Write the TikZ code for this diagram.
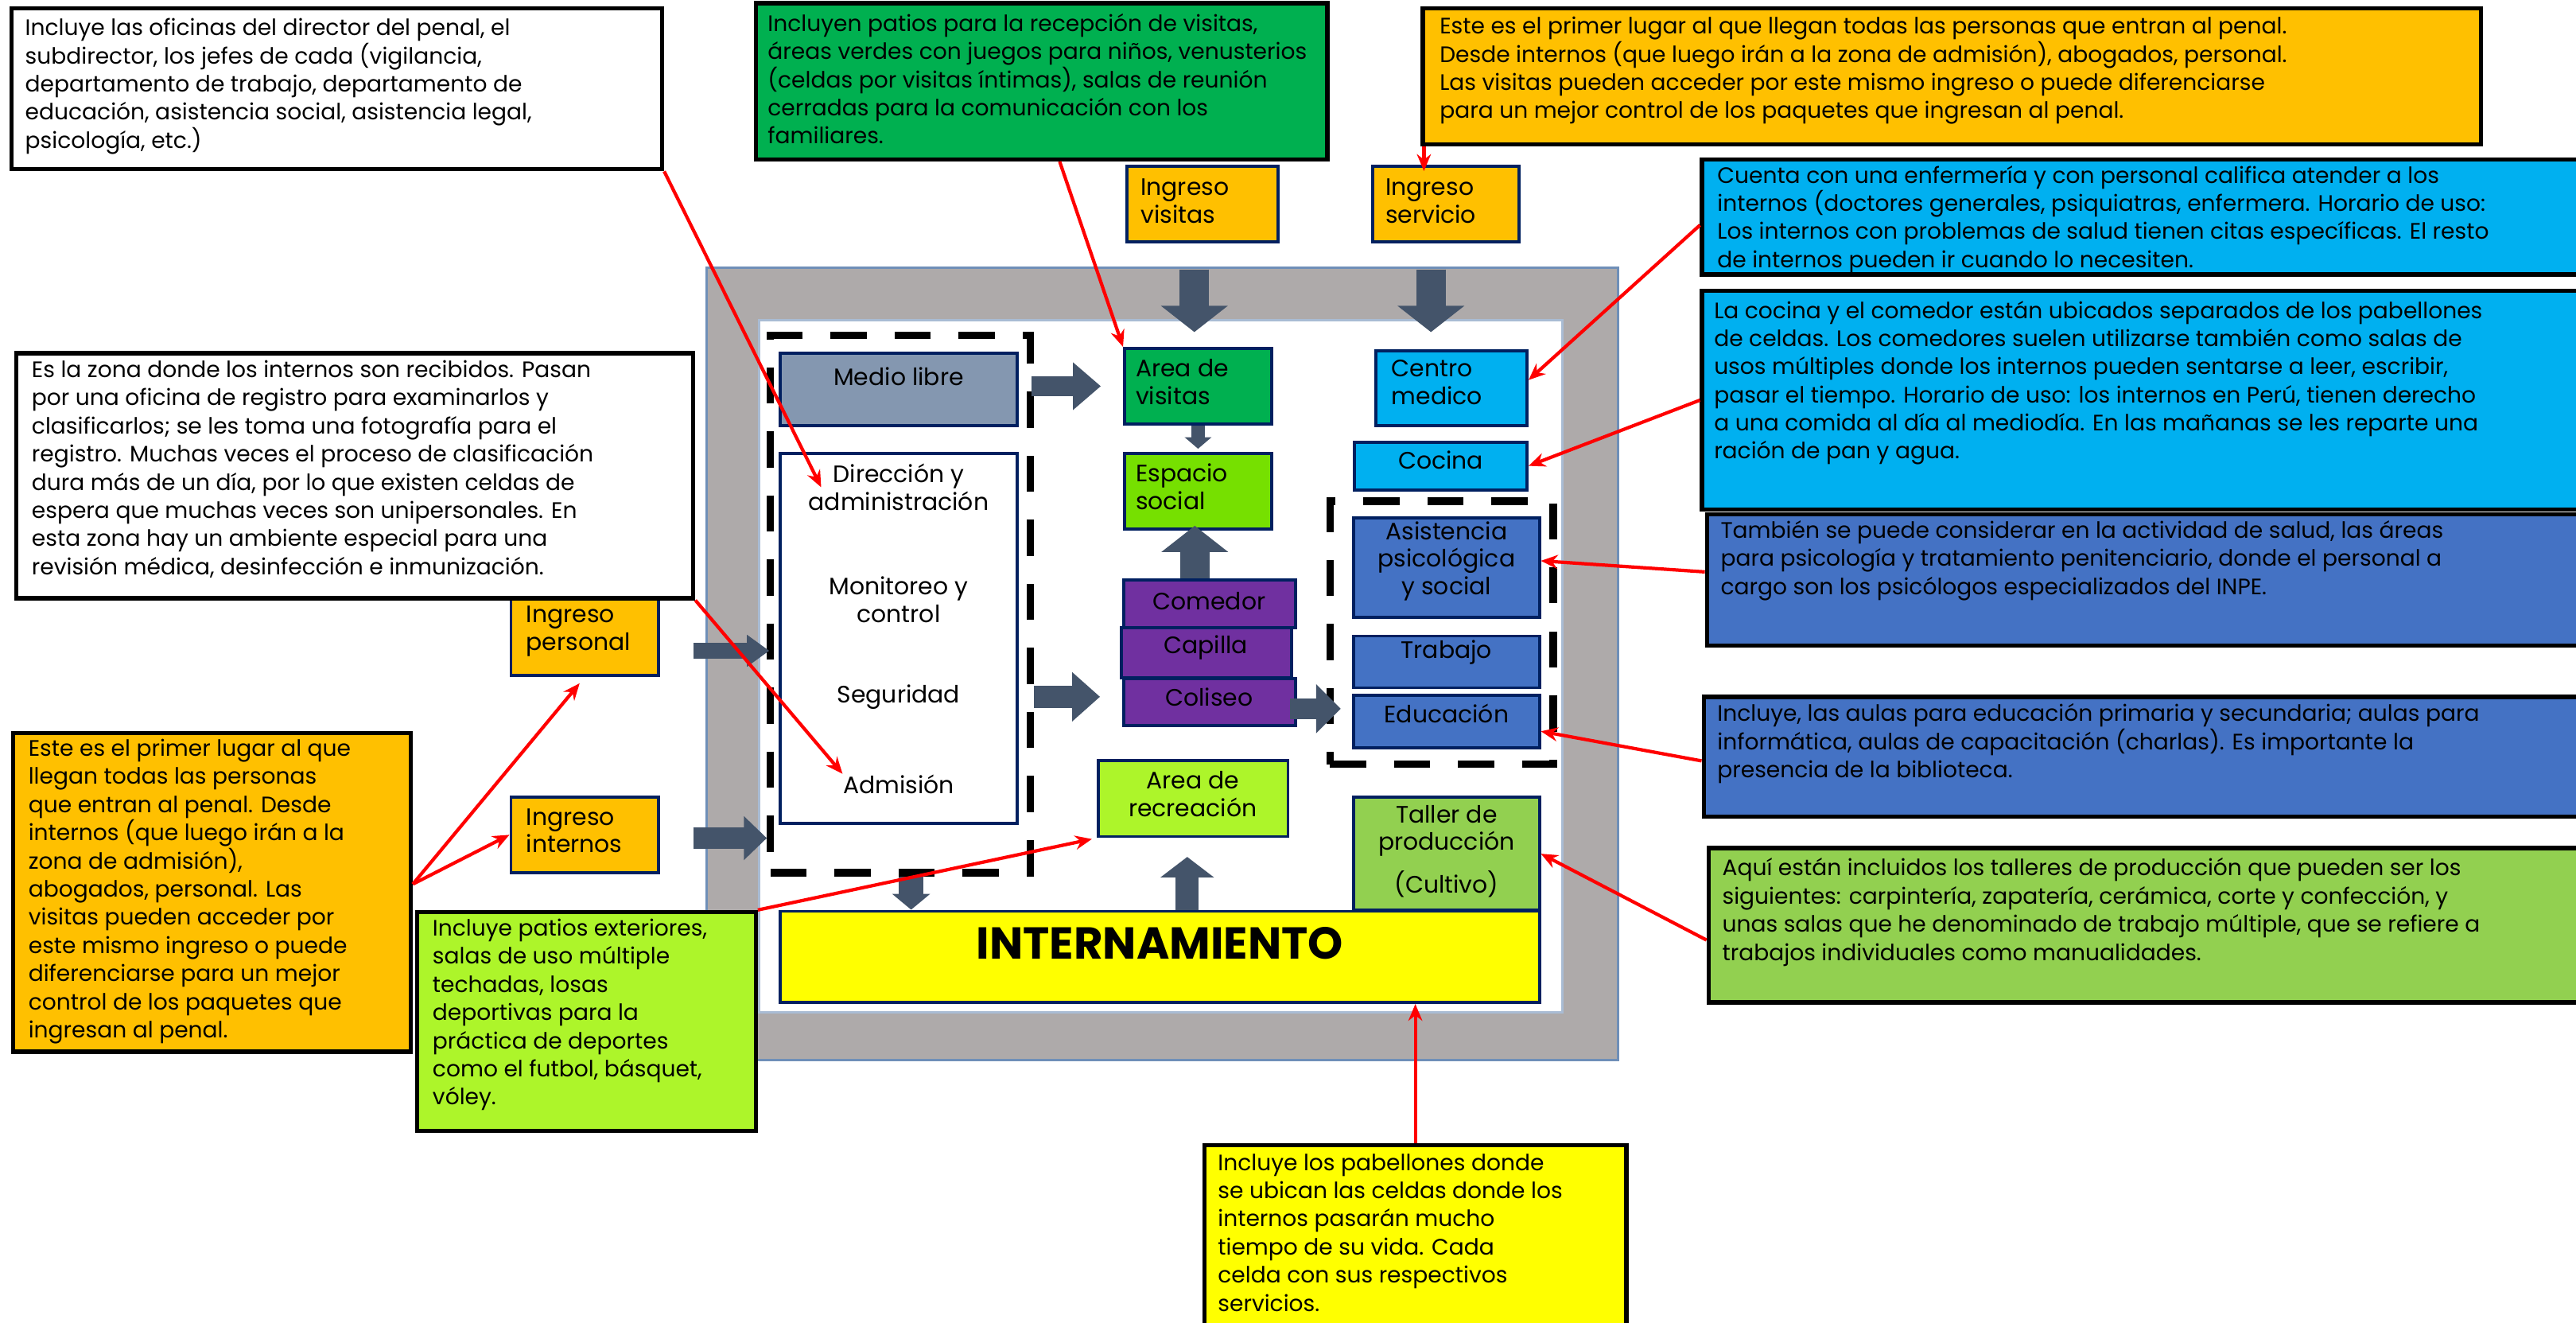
\documentclass[tikz,border=0pt]{standalone}
\usepackage{fontspec}
\setmainfont{Poppins}
\usetikzlibrary{arrows.meta}
\newlength{\pxu}
\setlength{\pxu}{0.20657mm}
\definecolor{naranja}{HTML}{FFC000}
\definecolor{verde}{HTML}{00B050}
\definecolor{celeste}{HTML}{00B0F0}
\definecolor{azul}{HTML}{4472C4}
\definecolor{verdeclaro}{HTML}{92D050}
\definecolor{lima}{HTML}{ADF52A}
\definecolor{limon}{HTML}{76E000}
\definecolor{amarillo}{HTML}{FFFF00}
\definecolor{morado}{HTML}{7030A0}
\definecolor{pizarra}{HTML}{44546A}
\definecolor{grismuro}{HTML}{AEAAAA}
\definecolor{bordeazul}{HTML}{6F8FB8}
\definecolor{marino}{HTML}{002060}
\definecolor{mediolibre}{HTML}{8497B0}
\tikzset{
  desc/.style={draw=black, line width=1.5pt, inner sep=0pt},
  dtxt/.style={anchor=west, align=left, inner sep=0pt, font=\fontsize{8}{10.07}\selectfont},
  room/.style={draw=marino, line width=1.1pt, inner sep=0pt},
  rtxt/.style={align=center, inner sep=0pt, font=\fontsize{8.5}{9.9}\selectfont},
  ltxt/.style={rtxt, anchor=west, align=left},
  zone/.style={draw=black, line width=0.93mm, dash pattern=on 4.54mm off 3.51mm, inner sep=0pt},
  blk/.style n args={3}{draw=pizarra, line width=#1, -{Triangle[width=#2, length=#3]}},
  redarr/.style={draw=red, line width=1.2pt, -{Stealth[length=6pt, width=5pt]}},
}
\begin{document}
\begin{tikzpicture}[x=0.20657mm, y=-0.20657mm]
    \useasboundingbox (0,0) rectangle (1568,804.6);
    \node[draw=bordeazul, line width=0.8pt, fill=grismuro, minimum width=555\pxu, minimum height=482\pxu, inner sep=0pt] (muro) at (707.5,404) {};
    \node[draw=bordeazul!60, line width=0.8pt, fill=white, minimum width=489\pxu, minimum height=421\pxu, inner sep=0pt] (patio) at (706.5,405.5) {};
    \node[zone, minimum width=158\pxu, minimum height=327\pxu] (zadm) at (548,367.5) {};
    \node[zone, minimum width=136\pxu, minimum height=160\pxu] (zsoc) at (877.5,385) {};
    \node[room, fill=naranja, minimum width=92\pxu, minimum height=46\pxu] (ingvis) at (732,124) {};
    \node[ltxt] (ingvis-t) at (694,122.3) {Ingreso\\visitas};
    \node[room, fill=naranja, minimum width=89\pxu, minimum height=46\pxu] (ingser) at (880,124) {};
    \node[ltxt] (ingser-t) at (843,122.3) {Ingreso\\servicio};
    \node[room, fill=naranja, minimum width=90\pxu, minimum height=47\pxu] (ingper) at (356,387.5) {};
    \node[ltxt] (ingper-t) at (320,384) {Ingreso\\personal};
    \node[room, fill=naranja, minimum width=90\pxu, minimum height=46\pxu] (ingint) at (356,508) {};
    \node[ltxt] (ingint-t) at (320,505.5) {Ingreso\\internos};
    \node[room, fill=mediolibre, minimum width=144\pxu, minimum height=44\pxu] (medlib) at (547,237) {};
    \node[rtxt] (medlib-t) at (547,229) {Medio libre};
    \node[room, fill=white, minimum width=144\pxu, minimum height=225\pxu] (dir) at (547,388.5) {};
    \node[rtxt] (dir-t) at (547,296.5) {Dirección y\\administración};
    \node[rtxt] (mon-t) at (547,365) {Monitoreo y\\control};
    \node[rtxt] (seg-t) at (547,424) {Seguridad};
    \node[rtxt] (adm-t) at (547,477) {Admisión};
    \node[room, fill=verde, minimum width=89.5\pxu, minimum height=46\pxu] (areavis) at (729.25,235) {};
    \node[ltxt] (areavis-t) at (691,232.5) {Area de\\visitas};
    \node[room, fill=limon, minimum width=89.5\pxu, minimum height=46\pxu] (espsoc) at (729.25,299) {};
    \node[ltxt] (espsoc-t) at (691,296.3) {Espacio\\social};
    \node[room, fill=morado, minimum width=104.5\pxu, minimum height=29\pxu] (comedor) at (736.25,367.5) {};
    \node[rtxt] (comedor-t) at (736,366) {Comedor};
    \node[room, fill=morado, minimum width=103.5\pxu, minimum height=30.5\pxu] (capilla) at (734.25,397.25) {};
    \node[rtxt] (capilla-t) at (734,394) {Capilla};
    \node[room, fill=morado, minimum width=104.5\pxu, minimum height=28.5\pxu] (coliseo) at (736.25,427.25) {};
    \node[rtxt] (coliseo-t) at (736,424) {Coliseo};
    \node[room, fill=lima, minimum width=115.5\pxu, minimum height=46\pxu] (recre) at (726.25,486) {};
    \node[rtxt] (recre-t) at (726,483) {Area de\\recreación};
    \node[room, fill=celeste, minimum width=92\pxu, minimum height=45.5\pxu] (cmed) at (883.5,236.25) {};
    \node[ltxt] (cmed-t) at (846.7,232.5) {Centro\\medico};
    \node[room, fill=celeste, minimum width=105\pxu, minimum height=29\pxu] (cocina) at (877,283.5) {};
    \node[rtxt] (cocina-t) at (877,280) {Cocina};
    \node[room, fill=azul, minimum width=113\pxu, minimum height=60.5\pxu] (asi) at (880.5,345.25) {};
    \node[rtxt] (asi-t) at (880.5,341.5) {Asistencia\\psicológica\\y social};
    \node[room, fill=azul, minimum width=113\pxu, minimum height=31.5\pxu] (trabajo) at (880.5,402.75) {};
    \node[rtxt] (trabajo-t) at (880.5,397) {Trabajo};
    \node[room, fill=azul, minimum width=113\pxu, minimum height=32\pxu] (edu) at (880.5,439) {};
    \node[rtxt] (edu-t) at (880.5,434) {Educación};
    \node[room, fill=verdeclaro, minimum width=113\pxu, minimum height=69\pxu] (taller) at (880.5,519.5) {};
    \node[rtxt] (taller-t) at (880.5,518) {Taller de\\producción\\[7\pxu](Cultivo)};
    \node[room, fill=amarillo, minimum width=462\pxu, minimum height=55.5\pxu] (intern) at (706,582.25) {};
    \node[rtxt, font=\bfseries\fontsize{16}{18}\selectfont] (intern-t) at (706,574) {INTERNAMIENTO};
    \draw[blk={18\pxu}{8.26mm}{3.31mm}, shorten <=16\pxu, shorten >=9\pxu] ([xshift=-5\pxu]ingvis.south) -- ([xshift=-5\pxu]ingvis.south |- areavis.north);
    \draw[blk={18\pxu}{8.26mm}{3.31mm}, shorten <=16\pxu, shorten >=10.5\pxu] ([xshift=-9\pxu]ingser.south) -- ([xshift=-9\pxu]ingser.south |- cmed.north);
    \draw[blk={12.5\pxu}{5.78mm}{3.51mm}, shorten <=8\pxu, shorten >=13.5\pxu] ([yshift=2\pxu]medlib.east) -- ([yshift=2\pxu]medlib.east -| areavis.west);
    \draw[blk={8.5\pxu}{3.31mm}{1.45mm}, shorten >=2\pxu] (areavis.south) -- (espsoc.north);
    \draw[blk={18\pxu}{8.26mm}{3.31mm}, shorten >=-3\pxu] ([xshift=-9\pxu]comedor.north) -- ([xshift=-9\pxu]comedor.north |- espsoc.south);
    \draw[blk={13.5\pxu}{5.99mm}{3.51mm}, shorten >=12\pxu] (zadm.east |- coliseo-t) -- (capilla.west |- coliseo-t);
    \draw[blk={12.5\pxu}{5.99mm}{3.10mm}, shorten <=-4\pxu, shorten >=7\pxu] ([yshift=-4\pxu]coliseo.east) -- ([yshift=-4\pxu]coliseo.east -| edu.west);
    \draw[blk={9.5\pxu}{3.84mm}{2.81mm}, shorten <=20\pxu, shorten >=-1.5\pxu] ([yshift=-8.5\pxu]ingper.east) -- ([yshift=-8.5\pxu]ingper.east -| zadm.west);
    \draw[blk={13\pxu}{5.37mm}{2.89mm}, shorten <=20\pxu] ([yshift=-2\pxu]ingint.east) -- ([yshift=-2\pxu]ingint.east -| zadm.west);
    \draw[blk={15\pxu}{4.65mm}{1.98mm}] ([xshift=6.6\pxu]zadm.south) -- ([xshift=6.6\pxu]zadm.south |- intern.north);
    \draw[blk={14\pxu}{6.61mm}{2.58mm}, shorten >=11.5\pxu] ([xshift=-3.6\pxu]recre.south |- intern.north) -- ([xshift=-3.6\pxu]recre.south);
    \node[desc, fill=white, minimum width=396\pxu, minimum height=98\pxu] (dofi) at (205,54) {};
    \node[dtxt] (dofi-t) at (15,52.5) {Incluye las oficinas del director del penal, el\\subdirector, los jefes de cada  (vigilancia,\\departamento de trabajo, departamento de\\educación,  asistencia social, asistencia legal,\\psicología, etc.)};
    \node[desc, fill=verde, minimum width=348\pxu, minimum height=95\pxu] (dvis) at (634,49.5) {};
    \node[dtxt] (dvis-t) at (467,48) {Incluyen patios para la recepción de visitas,\\áreas verdes con juegos para niños, venusterios\\(celdas por visitas íntimas), salas de reunión\\cerradas para la comunicación con los\\familiares.};
    \node[desc, fill=naranja, minimum width=644\pxu, minimum height=83\pxu] (dent) at (1188,46.5) {};
    \node[dtxt] (dent-t) at (876,43) {Este es el primer lugar al que llegan todas las personas que entran al penal.\\Desde internos (que luego irán a la zona de admisión), abogados, personal.\\Las visitas pueden acceder por este mismo ingreso o puede diferenciarse\\para un mejor control de los paquetes que ingresan al penal.};
    \node[desc, fill=celeste, minimum width=539\pxu, minimum height=70\pxu] (dmed) at (1305.5,132) {};
    \node[dtxt] (dmed-t) at (1045,133.5) {Cuenta con una enfermería y con personal califica atender a los\\internos (doctores generales, psiquiatras, enfermera. Horario de uso:\\Los internos con problemas de salud tienen citas específicas. El resto\\de internos pueden ir cuando lo necesiten.};
    \node[desc, fill=celeste, minimum width=539\pxu, minimum height=133\pxu] (dcoc) at (1305.5,243.5) {};
    \node[dtxt] (dcoc-t) at (1043,233) {La cocina y el comedor están ubicados separados de los pabellones\\de celdas. Los comedores suelen utilizarse también como salas de\\usos múltiples donde los internos pueden sentarse a leer, escribir,\\pasar el tiempo. Horario de uso: los internos en Perú, tienen derecho\\a una comida al día al mediodía. En las mañanas se les reparte una\\ración de pan  y agua.};
    \node[desc, fill=azul, minimum width=536\pxu, minimum height=80\pxu] (dasi) at (1307,353) {};
    \node[dtxt] (dasi-t) at (1047,341) {También se puede considerar en la actividad de salud, las áreas\\para psicología y tratamiento penitenciario, donde el personal a\\cargo son los psicólogos especializados del INPE.};
    \node[desc, fill=azul, minimum width=538\pxu, minimum height=73\pxu] (dedu) at (1306,460.5) {};
    \node[dtxt] (dedu-t) at (1045,452.5) {Incluye, las aulas para educación primaria y secundaria; aulas para\\informática, aulas de capacitación (charlas). Es importante la\\presencia de la biblioteca.};
    \node[desc, fill=verdeclaro, minimum width=535\pxu, minimum height=94\pxu] (dtal) at (1307.5,563) {};
    \node[dtxt] (dtal-t) at (1048,555) {Aquí están incluidos los talleres de producción que pueden ser los\\siguientes: carpintería, zapatería, cerámica, corte y confección, y\\unas salas que he denominado de trabajo múltiple, que se refiere a\\trabajos individuales como manualidades.};
    \node[desc, fill=white, minimum width=412\pxu, minimum height=149\pxu] (dadm) at (216,289.5) {};
    \node[dtxt] (dadm-t) at (19,285.5) {Es la zona donde los internos son recibidos. Pasan\\por una oficina de registro para examinarlos y\\clasificarlos; se les toma una fotografía para el\\registro. Muchas veces el proceso de clasificación\\dura más de un día, por lo que existen celdas de\\espera que muchas veces son unipersonales. En\\esta zona hay un ambiente especial para una\\revisión médica, desinfección e inmunización.};
    \node[desc, fill=naranja, minimum width=242\pxu, minimum height=194\pxu] (dper) at (129,543) {};
    \node[dtxt] (dper-t) at (17,542.5) {Este es el primer lugar al que\\llegan todas las personas\\que entran al penal. Desde\\internos (que luego irán a la\\zona de admisión),\\abogados, personal. Las\\visitas pueden acceder por\\este mismo ingreso o puede\\diferenciarse para un mejor\\control de los paquetes que\\ingresan al penal.};
    \node[desc, fill=lima, minimum width=206\pxu, minimum height=133\pxu] (dpat) at (357,621.5) {};
    \node[dtxt] (dpat-t) at (263,617.5) {Incluye patios exteriores,\\salas de uso múltiple\\techadas, losas\\deportivas para la\\práctica de deportes\\como el futbol, básquet,\\vóley.};
    \node[desc, fill=amarillo, minimum width=257\pxu, minimum height=115\pxu] (dpab) at (861.5,754.5) {};
    \node[dtxt] (dpab-t) at (741,750) {Incluye los pabellones donde\\se ubican las celdas donde los\\internos pasarán mucho\\tiempo de su vida. Cada\\celda con sus respectivos\\servicios.};
    \draw[redarr] (dofi.south east) -- ([xshift=8\pxu]dir-t.west);
    \draw[redarr] ([xshift=11\pxu]dvis.south) -- (areavis.north west);
    \draw[redarr, shorten >=-4\pxu] ([xshift=2\pxu]dent.south west) -- ([xshift=2\pxu]dent.south west |- ingser.north);
    \draw[redarr] ([yshift=-5\pxu]dmed.west) -- ([yshift=5\pxu]cmed.east);
    \draw[redarr] (dcoc.west) -- (cocina.east);
    \draw[redarr] ([yshift=5\pxu]dasi.west) -- ([yshift=4\pxu]asi.east);
    \draw[redarr] ([yshift=-2.5\pxu]dedu.west) -- ([yshift=-6\pxu]edu.east);
    \draw[redarr] ([yshift=-9\pxu]dtal.west) -- (taller.east);
    \draw[redarr] (dpab.north) -- (dpab.north |- intern.south);
    \draw[redarr, shorten >=3\pxu] (dpat.north east) -- (recre.south west);
    \draw[redarr, shorten >=5\pxu] ([yshift=5\pxu]dper.east) -- (ingper.south);
    \draw[redarr] ([yshift=5\pxu]dper.east) -- (ingint.west);
    \draw[redarr] (dadm.south east) -- (adm-t.north west);
\end{tikzpicture}
\end{document}
